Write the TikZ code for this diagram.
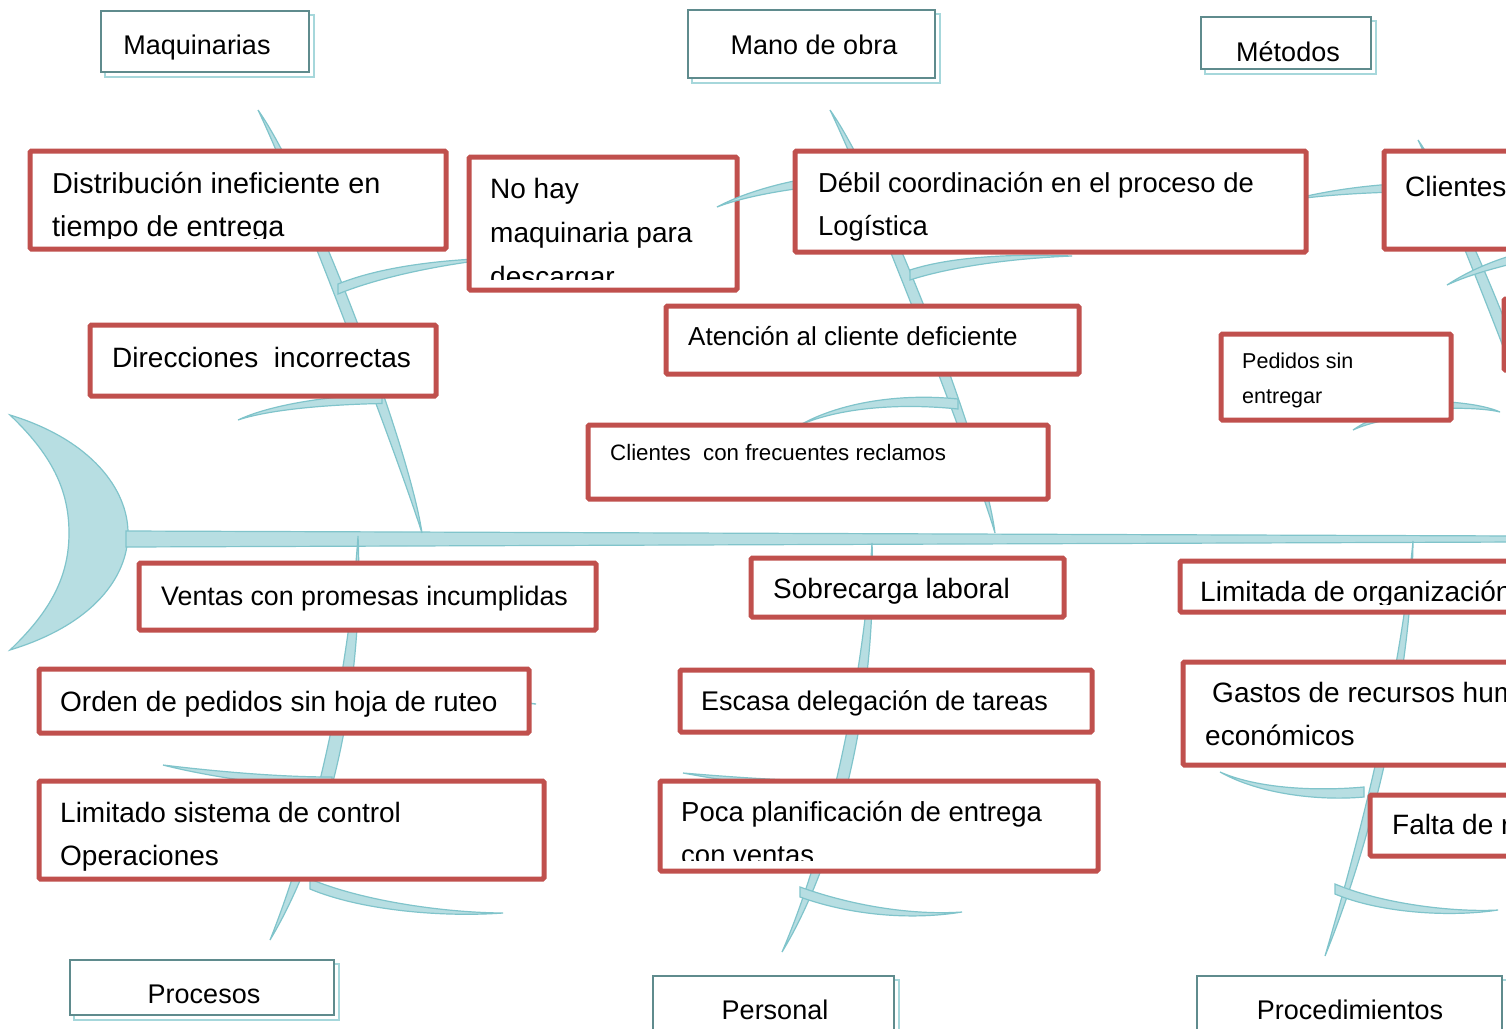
\documentclass[tikz,border=0pt]{standalone}
\usepackage{fontspec}
\setmainfont{Liberation Sans}
\usetikzlibrary{calc,fit}

\definecolor{redc}{HTML}{C0504D}
\definecolor{bonefill}{HTML}{B7DEE2}
\definecolor{boneline}{HTML}{80C4CB}
\definecolor{hdark}{HTML}{5F8B8D}
\definecolor{hlight}{HTML}{A6D7DB}

% bone tapered at both ends: start, control 1, control 2, end, half-width vector
\newcommand{\lensbone}[5]{%
  \path[bone] #1 .. controls ($#2+#5$) and ($#3+#5$) .. #4
    .. controls ($#3-#5$) and ($#2-#5$) .. #1 -- cycle;}
% bone with a blunt end (first point) and a pointed tip (fourth point)
\newcommand{\taperbone}[5]{%
  \path[bone] ($#1+#5$) .. controls ($#2+#5$) and ($#3+0.5*#5$) .. #4
    .. controls ($#3-0.5*#5$) and ($#2-#5$) .. ($#1-#5$) -- cycle;}
\newcommand{\fs}[1]{\fontsize{#1}{43}\selectfont}

\tikzset{
  bone/.style={fill=bonefill, draw=boneline, line width=1.2pt},
  cbox/.style={draw=redc, line width=5pt, fill=white, rounded corners=1.5pt, inner sep=0pt},
  hbox/.style={draw=hdark, line width=2.5pt, fill=white, inner sep=0pt},
  hshade/.style={draw=hlight, line width=2.5pt},
  txt/.style={anchor=base west, inner sep=0pt, font=\fs{28}},
  htxt/.style={anchor=base, inner sep=0pt, font=\fontsize{27}{33}\selectfont},
}

\begin{document}
\begin{tikzpicture}[x=1pt, y=-1pt]
\useasboundingbox (0,0) rectangle (1506,1028);
\fill[white] (0,0) rectangle (1506,1028);

% head and spine
\path[bone] (10,415) .. controls (92,440) and (128,490) .. (128,533)
  .. controls (128,578) and (92,625) .. (10,650)
  .. controls (52,610) and (69,575) .. (69,533)
  .. controls (69,490) and (52,455) .. (10,415) -- cycle;
\path[bone] (126,531) -- (1520,536) -- (1520,542) -- (126,547) -- cycle;

% main bones, upper side
\lensbone{(258,110)}{(300,180)}{(400,440)}{(422,533)}{(8,0)}
\lensbone{(830,110)}{(872,180)}{(975,440)}{(995,533)}{(8,0)}
\lensbone{(1418,140)}{(1460,210)}{(1560,470)}{(1582,560)}{(8,0)}
% main bones, lower side
\lensbone{(358,536)}{(356,700)}{(315,850)}{(270,940)}{(9,0)}
\lensbone{(872,543)}{(870,700)}{(830,860)}{(782,952)}{(8,0)}
\lensbone{(1413,541)}{(1405,690)}{(1362,850)}{(1325,956)}{(6,0)}

% secondary bones
\taperbone{(338,289)}{(380,272)}{(440,262)}{(500,258)}{(0,5)}
\taperbone{(382,399)}{(330,400)}{(270,407)}{(238,420)}{(0,4.5)}
\taperbone{(910,275)}{(950,262)}{(1010,256)}{(1072,256)}{(0,5)}
\taperbone{(958,404)}{(900,398)}{(840,405)}{(800,425)}{(0,5)}
\taperbone{(1440,187)}{(1380,187)}{(1330,192)}{(1290,200)}{(0,4.5)}
\taperbone{(1530,255)}{(1500,262)}{(1470,272)}{(1447,285)}{(0,4.5)}
\taperbone{(1400,405)}{(1440,404)}{(1480,405)}{(1500,412)}{(0,4)}
\taperbone{(1420,410)}{(1395,414)}{(1370,420)}{(1353,430)}{(0,4)}
\taperbone{(332,782)}{(270,782)}{(200,772)}{(163,765)}{(0,5)}
\taperbone{(310,884)}{(360,905)}{(440,915)}{(503,913)}{(0,5)}
\taperbone{(345,700)}{(420,700)}{(500,700)}{(536,704)}{(0,4)}
\taperbone{(800,892)}{(850,910)}{(910,918)}{(962,912)}{(0,5)}
\taperbone{(838,785)}{(780,785)}{(720,778)}{(683,773)}{(0,4)}
\taperbone{(1364,792)}{(1320,796)}{(1260,792)}{(1220,772)}{(0,5)}
\taperbone{(1335,889)}{(1380,908)}{(1450,915)}{(1498,910)}{(0,5)}

% category headers
\draw[hshade] (105,15) rectangle (314,77);
\node[hbox, fit={(101,11) (309,72)}] (h1) {};
\node[htxt] (h1t) at (197,54) {Maquinarias};
\draw[hshade] (692,14) rectangle (940,83);
\node[hbox, fit={(688,10) (935,78)}] (h2) {};
\node[htxt] (h2t) at (814,54) {Mano de obra};
\draw[hshade] (1205,21) rectangle (1376,74);
\node[hbox, fit={(1201,17) (1371,69)}] (h3) {};
\node[htxt] (h3t) at (1288,61) {Métodos};
\draw[hshade] (74,964) rectangle (339,1020);
\node[hbox, fit={(70,960) (334,1015)}] (h4) {};
\node[htxt] (h4t) at (204,1003) {Procesos};
\draw[hshade] (657,980) rectangle (899,1040);
\node[hbox, fit={(653,976) (894,1035)}] (h5) {};
\node[htxt] (h5t) at (775,1019) {Personal};
\draw[hshade] (1201,980) rectangle (1507,1040);
\node[hbox, fit={(1197,976) (1502,1035)}] (h6) {};
\node[htxt] (h6t) at (1350,1019) {Procedimientos};

% cause boxes
\node[cbox, fit={(30,151) (446,249)}] (b1) {};
\node[cbox, fit={(469,157) (737,290)}] (b2) {};
\taperbone{(850,178)}{(800,182)}{(750,192)}{(717,207)}{(0,5)}
\node[cbox, fit={(795,151) (1306,252)}] (b3) {};
\node[cbox, fit={(1384,151) (1520,249)}] (b4) {};
\node[cbox, fit={(90,325) (436,396)}] (b5) {};
\node[cbox, fit={(666,306) (1079,374)}] (b6) {};
\node[cbox, fit={(1221,334) (1451,420)}] (b7) {};
\node[cbox, fit={(1504,299) (1520,370)}] (b8) {};
\node[cbox, fit={(588,425) (1048,499)}] (b9) {};
\node[cbox, fit={(139,563) (596,630)}] (b10) {};
\node[cbox, fit={(39,669) (529,733)}] (b11) {};
\node[cbox, fit={(39,781) (544,879)}] (b12) {};
\node[cbox, fit={(751,558) (1064,617)}] (b13) {};
\node[cbox, fit={(680,670) (1092,732)}] (b14) {};
\node[cbox, fit={(660,781) (1098,871)}] (b15) {};
\node[cbox, fit={(1180,561) (1520,612)}] (b16) {};
\node[cbox, fit={(1183,662) (1520,765)}] (b17) {};
\node[cbox, fit={(1370,795) (1520,856)}] (b18) {};

% box texts
\node[txt, font=\fs{28.8}] (b1t1) at (52,193) {Distribución ineficiente en};
\begin{scope}
  \clip (30,151) rectangle (446,238);
  \node[txt, font=\fs{28.8}] (b1t2) at (52,236) {tiempo de entrega};
\end{scope}
\node[txt] (b2t1) at (490,198) {No hay};
\node[txt] (b2t2) at (490,242) {maquinaria para};
\begin{scope}
  \clip (469,157) rectangle (737,279);
  \node[txt] (b2t3) at (490,286) {descargar};
\end{scope}
\node[txt, font=\fs{27.4}] (b3t1) at (818,192) {Débil coordinación en el proceso de};
\node[txt, font=\fs{27.4}] (b3t2) at (818,235) {Logística};
\node[txt] (b4t1) at (1405,196) {Clientes};
\node[txt] (b5t1) at (112,367) {Direcciones\ \ incorrectas};
\node[txt, font=\fs{26}] (b6t1) at (688,345) {Atención al cliente deficiente};
\node[txt, font=\fs{21.5}] (b7t1) at (1242,368) {Pedidos sin};
\node[txt, font=\fs{21.5}] (b7t2) at (1242,403) {entregar};
\node[txt, font=\fs{22.3}] (b9t1) at (610,460) {Clientes\ \ con frecuentes reclamos};
\node[txt, font=\fs{26.8}] (b10t1) at (161,605) {Ventas con promesas incumplidas};
\node[txt] (b11t1) at (60,711) {Orden de pedidos sin hoja de ruteo};
\node[txt] (b12t1) at (60,822) {Limitado sistema de control};
\node[txt] (b12t2) at (60,865) {Operaciones};
\node[txt] (b13t1) at (773,598) {Sobrecarga laboral};
\node[txt, font=\fs{27}] (b14t1) at (701,710) {Escasa delegación de tareas};
\node[txt, font=\fs{27.5}] (b15t1) at (681,821) {Poca planificación de entrega};
\begin{scope}
  \clip (660,781) rectangle (1098,860);
  \node[txt, font=\fs{27.5}] (b15t2) at (681,864) {con ventas};
\end{scope}
\begin{scope}
  \clip (1180,561) rectangle (1520,604);
  \node[txt] (b16t1) at (1200,601) {Limitada de organización};
\end{scope}
\node[txt] (b17t1) at (1212,702) {Gastos de recursos humanos y};
\node[txt] (b17t2) at (1205,745) {económicos};
\node[txt] (b18t1) at (1392,834) {Falta de recursos};
\end{tikzpicture}
\end{document}
